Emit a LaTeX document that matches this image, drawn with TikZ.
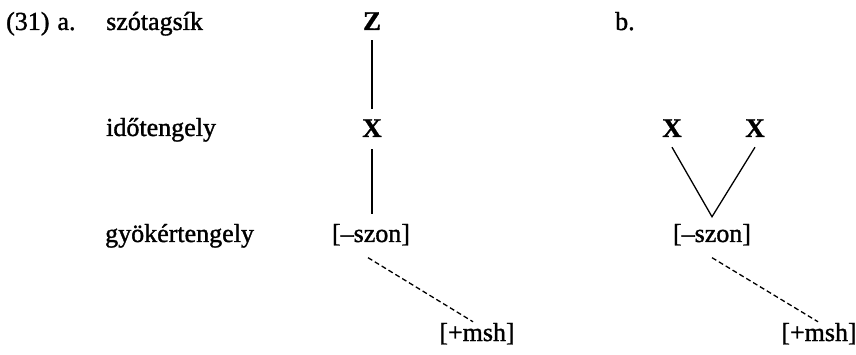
\documentclass[tikz,border=0pt]{standalone}
\usepackage{fontspec}
\setmainfont{Liberation Serif}
\newfontfamily\inkfont[FakeBold=1.3]{Liberation Serif}
\newfontfamily\tierfont[FakeBold=1.2]{Liberation Serif Bold}
\begin{document}
\begin{tikzpicture}[x=1pt,y=-1pt,
  lbl/.style={anchor=base west,inner sep=0pt,font=\fontsize{26}{28}\inkfont},
  tier/.style={anchor=base,inner sep=0pt,font=\fontsize{27}{29}\tierfont},
  feat/.style={anchor=base,inner sep=0pt,font=\fontsize{26}{28}\inkfont},
  assoc/.style={line width=1.3pt},
  dassoc/.style={line width=1.3pt,dash pattern=on 5pt off 3pt}]
\useasboundingbox (0,0) rectangle (856,355);
% labels
\node[lbl] (num) at (6,30) {(31)\hskip 8pt a.};
\node[lbl] (l1) at (106,30) {szótagsík};
\node[lbl] (l2) at (106,136) {időtengely};
\node[lbl] (l3) at (105,242) {gyökértengely};
\node[lbl] (bb) at (615,30) {b.};
% a.
\node[tier] (Z) at (372,30) {Z};
\node[tier] (Xa) at (372,137) {X};
\node[feat] (sza) at (371,242) {[–szon]};
\node[feat] (msa) at (477,341) {[+msh]};
\draw[assoc] ([yshift=-10pt]Z.south) -- ([yshift=10pt]Z.south |- Xa.north);
\draw[assoc] ([yshift=-12pt]Xa.south) -- ([yshift=10pt]Xa.south |- sza.north);
\draw[dassoc] ([xshift=-3pt,yshift=-12pt]sza.south) -- ([xshift=-4pt,yshift=1pt]msa.north);
% b.
\node[tier] (Xb1) at (672,137) {X};
\node[tier] (Xb2) at (755,137) {X};
\node[feat] (szb) at (712,242) {[–szon]};
\node[feat] (msb) at (819,341) {[+msh]};
\coordinate (apex) at ([yshift=7pt]szb.north);
\draw[assoc] ([yshift=-10pt]Xb1.south) -- (apex) -- ([yshift=-10pt]Xb2.south);
\draw[dassoc] ([yshift=-12pt]szb.south) -- ([xshift=-1pt,yshift=1pt]msb.north);
\end{tikzpicture}
\end{document}
